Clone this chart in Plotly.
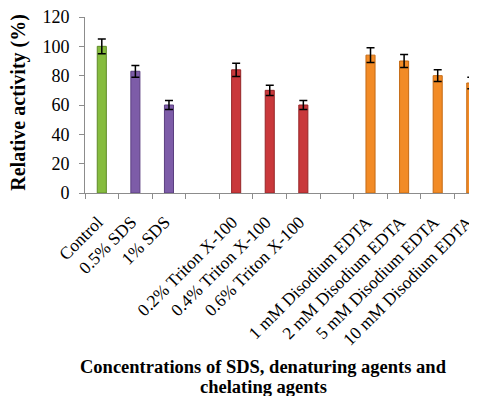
import plotly.graph_objects as go

categories = ["Control", "0.5% SDS", "1% SDS", " ",
              "0.2% Triton X-100", "0.4% Triton X-100", "0.6% Triton X-100", "  ",
              "1 mM Disodium EDTA", "2 mM Disodium EDTA", "5 mM Disodium EDTA", "10 mM Disodium EDTA"]
values = [100, 83, 60, None, 84, 70, 60, None, 94, 90, 80, 75]
errors = [5, 4, 3, None, 4.5, 3.5, 3, None, 5, 4.5, 4, 4]
bar_colors = ["#86BC3E", "#7D5CA8", "#7D5CA8", "#FFFFFF",
              "#C9383B", "#C9383B", "#C9383B", "#FFFFFF",
              "#F28B26", "#F28B26", "#F28B26", "#F28B26"]
edge_colors = ["#5E8A28", "#5B3F80", "#5B3F80", "#FFFFFF",
               "#962628", "#962628", "#962628", "#FFFFFF",
               "#C56A14", "#C56A14", "#C56A14", "#C56A14"]
x_title_lines = ["Concentrations of SDS, denaturing agents and", "chelating agents"]
y_title = "Relative activity (%)"

FONT = "Liberation Serif, Times New Roman, serif"

# page body has an 8px default margin, so the figure is sized to fit the 477x396 window
fig = go.Figure()
fig.add_trace(go.Bar(
    x=categories, y=values, width=0.27,
    marker=dict(color=bar_colors, line=dict(color=edge_colors, width=1)),
    error_y=dict(type="data", array=errors, visible=True, color="black", thickness=1.5, width=4),
    showlegend=False,
))

fig.update_layout(
    width=469, height=388,
    margin=dict(l=77, r=0, t=9, b=203),
    paper_bgcolor="white", plot_bgcolor="white",
    font=dict(family=FONT, color="black"),
    xaxis=dict(
        type="category", range=[-0.5, 11.17], automargin=False,
        showline=True, linecolor="#8C8C8C", linewidth=1,
        ticks="outside", tickson="boundaries", ticklen=5, tickcolor="#8C8C8C",
        tickangle=-45, tickfont=dict(size=17.5, family=FONT, color="black"),
        ticklabelstandoff=11, ticklabelshift=-4, ticklabeloverflow="allow",
        showgrid=False, zeroline=False,
    ),
    yaxis=dict(
        range=[0, 120], dtick=20, automargin=False,
        showline=True, linecolor="#8C8C8C", linewidth=1,
        ticks="outside", ticklen=5, tickcolor="#8C8C8C",
        tickfont=dict(size=18, family=FONT, color="black"),
        ticklabelstandoff=6, ticklabeloverflow="allow",
        showgrid=False, zeroline=False,
    ),
    annotations=[
        dict(text="<b>" + y_title + "</b>", xref="paper", yref="paper",
             x=-0.17, y=0.515, xanchor="center", yanchor="middle", textangle=-90,
             showarrow=False, font=dict(size=20, family=FONT, color="black")),
        dict(text="<b>" + x_title_lines[0] + "</b>",
             xref="paper", yref="paper", x=0.455, y=-0.92, xanchor="center", yanchor="top",
             showarrow=False, font=dict(size=18.5, family=FONT, color="black")),
        dict(text="<b>" + x_title_lines[1] + "</b>",
             xref="paper", yref="paper", x=0.455, y=-1.17, xanchor="center", yanchor="bottom",
             showarrow=False, font=dict(size=18.5, family=FONT, color="black")),
    ],
)

fig.write_html("out.html")
